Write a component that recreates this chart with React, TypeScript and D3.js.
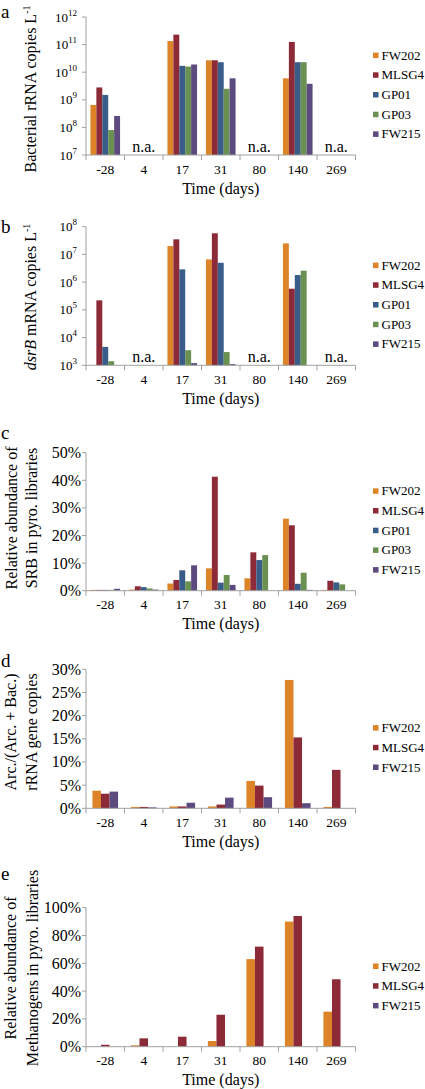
import React from "react";
import * as d3 from "d3";

// ---------- data ----------
const categories = ["-28", "4", "17", "31", "80", "140", "269"];
const series5 = ["FW202", "MLSG4", "GP01", "GP03", "FW215"];
const series3 = ["FW202", "MLSG4", "FW215"];

// panel a: Bacterial rRNA copies L-1 (null = n.a.)
const bacFW202 = [6.5e8, null, 1.35e11, 2.7e10, null, 6e9, null];
const bacMLSG4 = [2.8e9, null, 2.3e11, 2.7e10, null, 1.25e11, null];
const bacGP01 = [1.5e9, null, 1.7e10, 2.3e10, null, 2.3e10, null];
const bacGP03 = [8e7, null, 1.6e10, 2.5e9, null, 2.3e10, null];
const bacFW215 = [2.6e8, null, 1.9e10, 6e9, null, 3.8e9, null];
const naA = ["4", "80", "269"];

// panel b: dsrB mRNA copies L-1
const dsrFW202 = [0, null, 2e7, 6.6e6, null, 2.5e7, null];
const dsrMLSG4 = [2.2e5, null, 3.5e7, 5.8e7, null, 5.8e5, null];
const dsrGP01 = [4.6e3, null, 2.9e6, 5e6, null, 1.8e6, null];
const dsrGP03 = [1.4e3, null, 3.5e3, 3e3, null, 2.6e6, null];
const dsrFW215 = [0, null, 1.2e3, 1.1e3, null, 0, null];
const naB = ["4", "80", "269"];

// panel c: relative abundance of SRB (%)
const srbFW202 = [0.3, 0.4, 2.6, 8.1, 4.5, 26.1, 0.3];
const srbMLSG4 = [0.3, 1.6, 3.9, 41.3, 13.9, 23.7, 3.6];
const srbGP01 = [0.3, 1.3, 7.4, 2.9, 11.1, 2.5, 3.0];
const srbGP03 = [0.3, 0.8, 3.4, 5.7, 12.9, 6.5, 2.3];
const srbFW215 = [0.7, 0.4, 9.2, 2.1, 0, 0.3, 0];

// panel d: Arc./(Arc.+Bac.) (%)
const arcFW202 = [3.8, 0.3, 0.4, 0.4, 5.9, 27.7, 0.3];
const arcMLSG4 = [3.15, 0.3, 0.4, 0.8, 4.9, 15.3, 8.3];
const arcFW215 = [3.6, 0.2, 1.2, 2.3, 2.4, 1.1, 0];

// panel e: relative abundance of methanogens (%)
const metFW202 = [0, 1.0, 0, 4.1, 63, 90, 25.2];
const metMLSG4 = [1.4, 6.0, 7.2, 23, 72, 94, 48.5];
const metFW215 = [0, 0, 0, 0, 0, 0, 0];

const logTicksA = [7, 8, 9, 10, 11, 12];
const logTicksB = [3, 4, 5, 6, 7, 8];
const pctTicksC = [0, 10, 20, 30, 40, 50];
const pctTicksD = [0, 5, 10, 15, 20, 25, 30];
const pctTicksE = [0, 20, 40, 60, 80, 100];

const colors: Record<string, string> = {
  FW202: "#DD8428",
  MLSG4: "#8C2A37",
  GP01: "#395C88",
  GP03: "#6A9052",
  FW215: "#5D4A7E",
};

// ---------- layout ----------
const X0 = 86;
const X1 = 355.5;
const AXIS = "#A0A0A0";
const FONT = "'Liberation Serif', 'Times New Roman', serif";

type PanelProps = {
  letter: string;
  letterY: number;
  top: number;
  bottom: number;
  log: boolean;
  ticks: number[];
  series: string[];
  data: (number | null)[][];
  na: string[];
  title: React.ReactNode[];
  titleX: number[];
  titleY: number;
  tickFont: number;
};

function Panel(p: PanelProps) {
  const x = d3.scaleBand<string>().domain(categories).range([X0, X1]).paddingInner(0).paddingOuter(0);
  const xs = d3
    .scaleBand<string>()
    .domain(p.series)
    .range([0, x.bandwidth()])
    .paddingInner(0)
    .paddingOuter(0.75);
  const y: any = p.log
    ? d3.scaleLog().domain([Math.pow(10, p.ticks[0]), Math.pow(10, p.ticks[p.ticks.length - 1])]).range([p.bottom, p.top])
    : d3.scaleLinear().domain([p.ticks[0], p.ticks[p.ticks.length - 1]]).range([p.bottom, p.top]);
  const minV = p.log ? Math.pow(10, p.ticks[0]) : 0;
  const boundaries = [...categories.map((c) => x(c) as number), X1];
  const legendCenter = (p.top + p.bottom) / 2 + 8.5;
  const rowGap = 19.7;
  const legendStart = legendCenter - ((p.series.length - 1) * rowGap) / 2;

  return (
    <g>
      <text x={1} y={p.letterY} fontSize={19} fontFamily={FONT}>
        {p.letter}
      </text>
      {/* y title */}
      {p.title.map((t, i) => (
        <text
          key={i}
          transform={`translate(${p.titleX[i]},${p.titleY}) rotate(-90)`}
          textAnchor="middle"
          fontSize={16}
          fontFamily={FONT}
        >
          {t}
        </text>
      ))}
      {/* bars */}
      {categories.map((c, ci) =>
        p.series.map((s, si) => {
          const v = p.data[si][ci];
          if (v == null || v <= minV) return null;
          const yv = y(v);
          return (
            <rect
              key={c + s}
              x={(x(c) as number) + (xs(s) as number)}
              y={yv}
              width={xs.bandwidth()}
              height={p.bottom - yv}
              fill={colors[s]}
            />
          );
        })
      )}
      {/* y axis */}
      <line x1={X0} x2={X0} y1={p.top} y2={p.bottom} stroke={AXIS} strokeWidth={1} />
      {p.ticks.map((t) => {
        const ty = p.log ? y(Math.pow(10, t)) : y(t);
        return (
          <g key={t}>
            <line x1={X0 - 4} x2={X0} y1={ty} y2={ty} stroke={AXIS} />
            {p.log ? (
              <text x={X0 - 9} y={ty + 4.5} textAnchor="end" fontSize={13} fontFamily={FONT}>
                10
                <tspan fontSize={9} dy={-6}>
                  {t}
                </tspan>
              </text>
            ) : (
              <text x={X0 - 5} y={ty + 5.5} textAnchor="end" fontSize={p.tickFont} fontFamily={FONT}>
                {t + "%"}
              </text>
            )}
          </g>
        );
      })}
      {/* x axis */}
      <line x1={X0} x2={X1} y1={p.bottom} y2={p.bottom} stroke={AXIS} strokeWidth={1} />
      {boundaries.map((b, i) => (
        <line key={i} x1={b} x2={b} y1={p.bottom} y2={p.bottom + 5} stroke={AXIS} />
      ))}
      {categories.map((c) => (
        <text
          key={c}
          x={(x(c) as number) + x.bandwidth() / 2}
          y={p.bottom + 18.5}
          textAnchor="middle"
          fontSize={13.5}
          fontFamily={FONT}
        >
          {c}
        </text>
      ))}
      {p.na.map((c) => (
        <text
          key={"na" + c}
          x={(x(c) as number) + x.bandwidth() / 2}
          y={p.bottom - 3}
          textAnchor="middle"
          fontSize={16}
          fontFamily={FONT}
        >
          n.a.
        </text>
      ))}
      <text x={(X0 + X1) / 2} y={p.bottom + 38.5} textAnchor="middle" fontSize={16} fontFamily={FONT}>
        Time (days)
      </text>
      {/* legend */}
      {p.series.map((s, i) => {
        const cy = legendStart + i * rowGap;
        return (
          <g key={s}>
            <rect x={373} y={cy - 2.5} width={5.5} height={5.5} fill={colors[s]} />
            <text x={381.5} y={cy + 4.5} fontSize={13} fontFamily={FONT}>
              {s}
            </text>
          </g>
        );
      })}
    </g>
  );
}

export default function App() {
  return (
    <svg
      width={425}
      height={1089}
      style={{ position: "absolute", left: 0, top: 0, background: "#fff" }}
    >
      <rect width={425} height={1089} fill="#fff" />
      <Panel
        letter="a"
        letterY={17.5}
        top={17}
        bottom={155}
        log={true}
        ticks={logTicksA}
        series={series5}
        data={[bacFW202, bacMLSG4, bacGP01, bacGP03, bacFW215]}
        na={naA}
        title={[
          <>
            Bacterial rRNA copies L<tspan fontSize={10} dy={-6}>-1</tspan>
          </>,
        ]}
        titleX={[36]}
        titleY={89}
        tickFont={13}
      />
      <Panel
        letter="b"
        letterY={233}
        top={226.7}
        bottom={365.3}
        log={true}
        ticks={logTicksB}
        series={series5}
        data={[dsrFW202, dsrMLSG4, dsrGP01, dsrGP03, dsrFW215]}
        na={naB}
        title={[
          <>
            <tspan fontStyle="italic">dsrB</tspan> mRNA copies L<tspan fontSize={10} dy={-6}>-1</tspan>
          </>,
        ]}
        titleX={[36]}
        titleY={297}
        tickFont={13}
      />
      <Panel
        letter="c"
        letterY={439}
        top={452.7}
        bottom={590.7}
        log={false}
        ticks={pctTicksC}
        series={series5}
        data={[srbFW202, srbMLSG4, srbGP01, srbGP03, srbFW215]}
        na={[]}
        title={["Relative abundance of", "SRB in pyro. libraries"]}
        titleX={[17, 37]}
        titleY={518}
        tickFont={16}
      />
      <Panel
        letter="d"
        letterY={667}
        top={669.3}
        bottom={808.3}
        log={false}
        ticks={pctTicksD}
        series={series3}
        data={[arcFW202, arcMLSG4, arcFW215]}
        na={[]}
        title={["Arc./(Arc. + Bac.)", "rRNA gene copies"]}
        titleX={[16, 37]}
        titleY={732}
        tickFont={16}
      />
      <Panel
        letter="e"
        letterY={880}
        top={907.7}
        bottom={1046.7}
        log={false}
        ticks={pctTicksE}
        series={series3}
        data={[metFW202, metMLSG4, metFW215]}
        na={[]}
        title={["Relative abundance of", "Methanogens in pyro. libraries"]}
        titleX={[16, 38]}
        titleY={968}
        tickFont={16}
      />
    </svg>
  );
}
